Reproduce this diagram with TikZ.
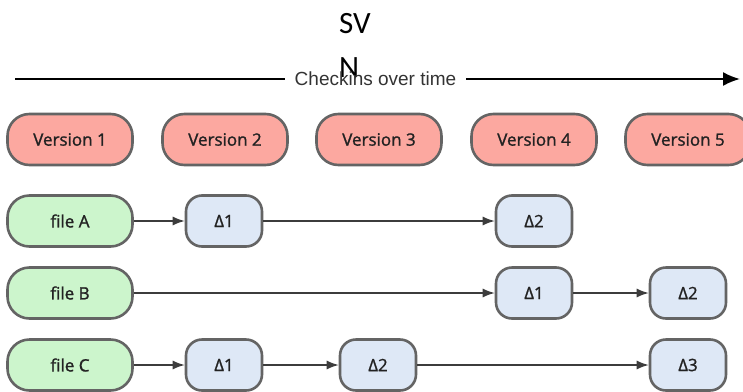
\documentclass[tikz,border=0pt]{standalone}
\usepackage{fontspec}
\setmainfont{Open Sans}
\newfontfamily\boxfont[FakeBold=1.3]{Open Sans}
\newfontfamily\svnfont{Carlito}
\newfontfamily\axisfont{Liberation Sans}
\usetikzlibrary{arrows.meta}

\definecolor{verfill}{RGB}{252,168,160}
\definecolor{filefill}{RGB}{204,245,204}
\definecolor{deltafill}{RGB}{222,232,246}
\definecolor{boxline}{RGB}{100,100,100}
\definecolor{linkgray}{RGB}{60,60,60}
\definecolor{boxtext}{RGB}{34,34,34}

\begin{document}
\begin{tikzpicture}[x=1pt,y=-1pt,
    box/.style={draw=boxline, line width=2.6pt, rounded corners=22pt,
      minimum width=125pt, minimum height=51pt, inner sep=0pt,
      text=boxtext, font=\boxfont\fontsize{17}{20}\selectfont},
    version/.style={box, fill=verfill},
    file/.style={box, fill=filefill},
    delta/.style={box, fill=deltafill, minimum width=76pt, rounded corners=16pt},
    link/.style={draw=linkgray, line width=1.3pt, -{Latex[length=12pt,width=9pt]}},
    timeline/.style={draw=black, line width=2pt}]
    \useasboundingbox (0,0) rectangle (743,391);

    % title
    \node[font=\svnfont\fontsize{31}{44}\selectfont, align=left, anchor=north west,
      inner sep=0pt] (svn) at (339,13) {SV\\N};

    % time axis
    \coordinate (t0) at (15,79);
    \coordinate (t1) at (740,79);
    \node[font=\axisfont\fontsize{19}{22}\selectfont, text=black!80, inner xsep=10pt]
      (axis) at (375.5,79) {Checkins over time};
    \draw[timeline] (t0) -- (axis);
    \draw[timeline, -{Latex[length=17pt,width=14pt]}] (axis) -- (t1);

    % versions
    \node[version] (v1) at (70,139.5) {Version 1};
    \node[version] (v2) at (225,139.5) {Version 2};
    \node[version] (v3) at (379,139.5) {Version 3};
    \node[version] (v4) at (534,139.5) {Version 4};
    \node[version] (v5) at (688,139.5) {Version 5};

    % files
    \node[file] (fa) at (70,221) {file A};
    \node[file] (fb) at (70,293) {file B};
    \node[file] (fc) at (70,365) {file C};

    % deltas
    \node[delta] (a1) at (224,221) {Δ1};
    \node[delta] (a2) at (534,221) {Δ2};
    \node[delta] (b1) at (534,293) {Δ1};
    \node[delta] (b2) at (688,293) {Δ2};
    \node[delta] (c1) at (224,365) {Δ1};
    \node[delta] (c2) at (378,365) {Δ2};
    \node[delta] (c3) at (688,365) {Δ3};

    % links
    \draw[link] (fa) -- (a1);
    \draw[link] (a1) -- (a2);
    \draw[link] (fb) -- (b1);
    \draw[link] (b1) -- (b2);
    \draw[link] (fc) -- (c1);
    \draw[link] (c1) -- (c2);
    \draw[link] (c2) -- (c3);
\end{tikzpicture}
\end{document}
